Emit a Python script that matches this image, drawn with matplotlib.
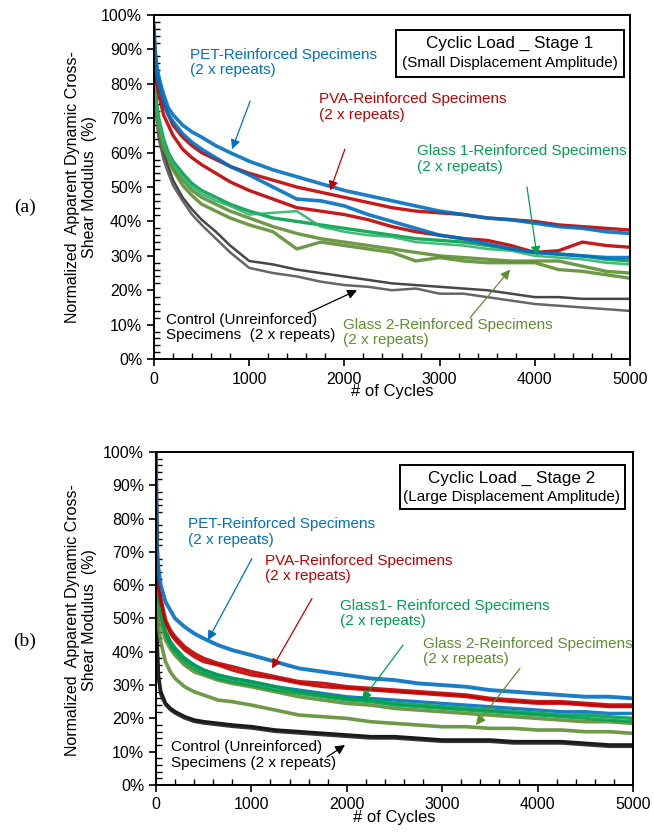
import matplotlib.pyplot as plt
from matplotlib.patches import Rectangle
from matplotlib.ticker import MultipleLocator, PercentFormatter

plt.rcParams['font.family'] = ['Liberation Sans', 'DejaVu Sans']

cycles = [0, 10, 25, 50, 100, 150, 200, 300, 400, 500, 650, 800, 1000, 1250, 1500,
          1750, 2000, 2250, 2500, 2750, 3000, 3250, 3500, 3750, 4000, 4250, 4500, 4750, 5000]

# ---- Stage 1 (small displacement amplitude), % of initial modulus
s1_pet_1 = [97, 90, 86, 82, 77, 73, 71, 68, 66, 64.5, 62, 60, 57.5, 55, 53,
            51, 49, 47.5, 46, 44.5, 43, 42, 41, 40.5, 39.5, 38.5, 38, 37, 36.5]
s1_pet_2 = [95, 88, 84, 80, 75, 71, 69, 65.5, 63, 61, 58.5, 56, 53.5, 50, 46.5,
            46, 44.5, 42, 40, 38, 36, 35, 33.5, 32, 31, 30.5, 30, 29.5, 29.5]
s1_pva_1 = [96, 88, 84, 80, 74, 71, 68, 64.5, 62, 60, 58, 56, 54, 52, 50,
            48.5, 47, 45.5, 44, 43, 42.5, 42, 41, 40.5, 40, 39, 38.5, 38, 37.5]
s1_pva_2 = [95, 86, 81, 77, 71, 68, 65, 61, 58.5, 56.5, 54, 51.5, 49, 46.5, 44,
            43, 42, 40.5, 38.5, 37, 36, 35, 34.5, 33, 31, 31.5, 34, 33, 32.5]
s1_g1_1 = [95, 82, 75, 70, 64, 60, 57.5, 54, 51, 49, 47, 45, 43, 41, 40,
           39, 38, 37, 36, 35, 34.5, 34, 33, 32, 31, 30.5, 30, 29, 28.5]
s1_g1_2 = [94, 81, 74, 69, 63, 59, 56.5, 53, 50, 48, 46, 44.5, 42, 42.5, 43,
           38.5, 37, 36, 35.5, 34, 33.5, 33, 32, 31.5, 30, 29.5, 29, 28, 27.5]
s1_g2_1 = [94, 80, 74, 68, 62, 58, 55.5, 52, 49, 47, 45, 43, 41, 38.5, 36.5,
           35, 34, 33, 32, 31, 30, 29.5, 29, 28.5, 28.5, 28.5, 27, 25.5, 25]
s1_g2_2 = [93, 79, 73, 67, 61, 58.5, 55, 50.5, 47.5, 45, 43, 41, 39, 37, 32,
           34, 33, 32, 31, 28.5, 29.5, 28.5, 28, 28, 28, 26, 25.5, 24.5, 23.5]
s1_ctl_1 = [93, 80, 72, 66, 60, 56, 52, 47, 43.5, 40.5, 37, 33, 28.5, 27.5, 26,
            25, 24, 23, 22, 21.5, 21, 20.5, 20, 19, 18, 18, 17.5, 17.5, 17.5]
s1_ctl_2 = [92, 78, 70, 64, 58, 54, 50.5, 46, 42, 39, 35, 31, 26.5, 25, 24,
            22.5, 21.5, 21, 20, 20.5, 19, 19, 18, 17, 16, 15.5, 15, 14.5, 14]

# ---- Stage 2 (large displacement amplitude)
s2_pet_1 = [100, 72, 65, 60, 55, 52.5, 50, 47.5, 45.5, 44, 42, 40.5, 39, 37, 35,
            34, 33, 32, 31.5, 30.5, 30, 29.5, 28.5, 28, 27.5, 27, 26.5, 26.5, 26]
s2_pet_2 = [100, 65, 58, 52, 46, 43, 41, 38, 36, 34.5, 33, 32, 31, 29.5, 28.5,
            27.5, 26.5, 26, 25.5, 25, 24.5, 24, 23.5, 23, 22.5, 22, 22, 21.5, 21.5]
s2_pva_1 = [100, 68, 61, 56, 49.5, 46.5, 44.5, 41.5, 39.5, 38, 36.5, 35.5, 34, 32.5, 31,
            30.5, 29.5, 29, 28.5, 28, 27.5, 27, 26, 25.5, 25, 25, 24.5, 24, 24]
s2_pva_2 = [100, 67, 60, 55, 49, 45.5, 43.5, 40.5, 38.5, 37, 36, 34.5, 33, 32, 30.5,
            29.5, 29, 28.5, 28, 27.5, 27, 26.5, 25.5, 25, 24.5, 24.5, 24, 23.5, 23.5]
s2_g1_1 = [95, 64, 57, 52, 46, 43, 41, 38, 36, 34.5, 33, 32, 31, 29.5, 28,
           27, 26, 25.5, 24.5, 24, 23.5, 23, 22.5, 22, 21.5, 21, 21, 20.5, 20]
s2_g1_2 = [94, 63, 56, 51, 45, 42, 40, 37, 35, 33.5, 32, 31, 30, 28.5, 27.5,
           26.5, 25.5, 25, 24, 23.5, 23, 22.5, 22, 21.5, 21, 20.5, 20, 19.5, 19]
s2_g2_1 = [90, 60, 54, 49, 43.5, 41, 39, 36, 34, 33, 31.5, 30.5, 29.5, 28, 26.5,
           25.5, 24.5, 24, 23, 22.5, 22, 21.5, 21, 20.5, 20, 19.5, 19, 19, 18.5]
s2_g2_2 = [85, 55, 48, 43, 37, 34, 32, 29.5, 28, 27, 25.5, 25, 24, 22.5, 21,
           20.5, 20, 19, 18.5, 18, 17.5, 17.5, 17, 17, 16.5, 16.5, 16, 16, 15.5]
s2_ctl_1 = [90, 45, 33, 28, 24.5, 23, 22, 20.5, 19.5, 19, 18.5, 18, 17.5, 16.5, 16,
            15.5, 15, 14.5, 14.5, 14, 13.5, 13.5, 13.5, 13, 13, 13, 12.5, 12, 12]
s2_ctl_2 = [88, 43, 32, 27, 24, 22.5, 21.5, 20, 19, 18.5, 18, 17.5, 17, 16, 15.5,
            15, 14.5, 14, 14, 13.5, 13, 13, 13, 12.5, 12.5, 12.5, 12, 11.5, 11.5]

BLUE = '#0070C0'
RED = '#C00000'
GREEN = '#00A04E'
OLIVE = '#5E8E32'
BLACK = '#000000'

fig = plt.figure(figsize=(6.54, 8.35), dpi=100)
ax_a = fig.add_axes([0.2355, 0.570, 0.7278, 0.412])
ax_b = fig.add_axes([0.2385, 0.0599, 0.7294, 0.3988])


def draw_curves(ax, curves):
    for vals, color, lw in curves:
        ax.plot(cycles, vals, color=color, lw=lw, alpha=0.9, solid_joinstyle='round')


draw_curves(ax_a, [
    (s1_ctl_1, '#333333', 1.8), (s1_ctl_2, '#555555', 1.8),
    (s1_g2_1, OLIVE, 2.4), (s1_g2_2, OLIVE, 2.4),
    (s1_g1_1, GREEN, 2.4), (s1_g1_2, '#2DB36A', 1.8),
    (s1_pva_1, RED, 2.4), (s1_pva_2, RED, 2.4),
    (s1_pet_1, BLUE, 2.6), (s1_pet_2, BLUE, 2.6),
])
draw_curves(ax_b, [
    (s2_ctl_1, BLACK, 2.6), (s2_ctl_2, '#222222', 2.0),
    (s2_g2_1, OLIVE, 2.6), (s2_g2_2, OLIVE, 2.6),
    (s2_pet_2, BLUE, 2.4),
    (s2_g1_1, GREEN, 2.6), (s2_g1_2, GREEN, 2.2),
    (s2_pva_1, RED, 2.6), (s2_pva_2, RED, 2.2),
    (s2_pet_1, BLUE, 2.8),
])

for ax in (ax_a, ax_b):
    ax.set_xlim(0, 5000)
    ax.set_ylim(0, 100)
    ax.xaxis.set_major_locator(MultipleLocator(1000))
    ax.xaxis.set_minor_locator(MultipleLocator(200))
    ax.yaxis.set_major_locator(MultipleLocator(10))
    ax.yaxis.set_minor_locator(MultipleLocator(2))
    ax.yaxis.set_major_formatter(PercentFormatter(decimals=0))
    ax.tick_params(which='major', direction='out', length=5, width=1.2, labelsize=11.5)
    ax.tick_params(which='minor', direction='in', length=4, width=1.0)
    ax.tick_params(axis='x', pad=4)
    for sp in ax.spines.values():
        sp.set_linewidth(1.4)
    ax.set_xlabel('# of Cycles', fontsize=12, labelpad=-2)

arrow = dict(arrowstyle='-|>', lw=0.9, mutation_scale=14, shrinkA=0, shrinkB=0)
fs = 11

# ---- panel (a) annotations
ax_a.text(378, 90.5, 'PET-Reinforced Specimens\n(2 x repeats)', color=BLUE, fontsize=fs,
          va='top', linespacing=1.15)
ax_a.annotate('', xy=(820, 61), xytext=(1010, 75), arrowprops=dict(arrow, color=BLUE))
ax_a.text(1733, 77.5, 'PVA-Reinforced Specimens\n(2 x repeats)', color=RED, fontsize=fs,
          va='top', linespacing=1.15)
ax_a.annotate('', xy=(1850, 49), xytext=(2005, 61), arrowprops=dict(arrow, color=RED))
ax_a.text(2763, 62.5, 'Glass 1-Reinforced Specimens\n(2 x repeats)', color=GREEN, fontsize=fs,
          va='top', linespacing=1.15)
ax_a.annotate('', xy=(4023, 30), xytext=(3918, 50), arrowprops=dict(arrow, color=GREEN))
ax_a.text(1985, 12, 'Glass 2-Reinforced Specimens\n(2 x repeats)', color=OLIVE, fontsize=fs,
          va='top', linespacing=1.15)
ax_a.annotate('', xy=(3740, 26), xytext=(3320, 12), arrowprops=dict(arrow, color=OLIVE))
ax_a.text(126, 13.5, 'Control (Unreinforced)\nSpecimens  (2 x repeats)', color=BLACK,
          fontsize=fs, va='top', linespacing=1.15)
ax_a.annotate('', xy=(2132, 20), xytext=(1618, 13.4), arrowprops=dict(arrow, color=BLACK))

ax_a.add_patch(Rectangle((0.508, 0.820), 0.479, 0.136, transform=ax_a.transAxes,
                         fill=False, lw=1.4, ec='black'))
ax_a.text(0.748, 0.916, 'Cyclic Load _ Stage 1', transform=ax_a.transAxes,
          ha='center', va='center', fontsize=12.3)
ax_a.text(0.748, 0.860, '(Small Displacement Amplitude)', transform=ax_a.transAxes,
          ha='center', va='center', fontsize=11)

# ---- panel (b) annotations
ax_b.text(335, 80.5, 'PET-Reinforced Specimens\n(2 x repeats)', color=BLUE, fontsize=fs,
          va='top', linespacing=1.15)
ax_b.annotate('', xy=(545, 43.5), xytext=(1006, 68), arrowprops=dict(arrow, color=BLUE))
ax_b.text(1143, 69.5, 'PVA-Reinforced Specimens\n(2 x repeats)', color=RED, fontsize=fs,
          va='top', linespacing=1.15)
ax_b.annotate('', xy=(1216, 35), xytext=(1635, 56), arrowprops=dict(arrow, color=RED))
ax_b.text(1929, 56, 'Glass1- Reinforced Specimens\n(2 x repeats)', color=GREEN, fontsize=fs,
          va='top', linespacing=1.15)
ax_b.annotate('', xy=(2160, 25.5), xytext=(2589, 42), arrowprops=dict(arrow, color=GREEN))
ax_b.text(2799, 44.5, 'Glass 2-Reinforced Specimens\n(2 x repeats)', color=OLIVE, fontsize=fs,
          va='top', linespacing=1.15)
ax_b.annotate('', xy=(3354, 18), xytext=(3815, 35), arrowprops=dict(arrow, color=OLIVE))
ax_b.text(157, 13.5, 'Control (Unreinforced)\nSpecimens (2 x repeats)', color=BLACK,
          fontsize=fs, va='top', linespacing=1.15)
ax_b.annotate('', xy=(1981, 12), xytext=(1793, 8.4), arrowprops=dict(arrow, color=BLACK))

ax_b.add_patch(Rectangle((0.5115, 0.829), 0.4715, 0.132, transform=ax_b.transAxes,
                         fill=False, lw=1.4, ec='black'))
ax_b.text(0.746, 0.922, 'Cyclic Load _ Stage 2', transform=ax_b.transAxes,
          ha='center', va='center', fontsize=12.3)
ax_b.text(0.746, 0.865, '(Large Displacement Amplitude)', transform=ax_b.transAxes,
          ha='center', va='center', fontsize=11)

# y labels and panel letters
ylab = 'Normalized  Apparent Dynamic Cross-\nShear Modulus  (%)'
fig.text(81 / 654, 1 - 187 / 835, ylab, rotation=90, ha='center', va='center',
         fontsize=11.5, linespacing=1.15)
fig.text(81 / 654, 1 - 620 / 835, ylab, rotation=90, ha='center', va='center',
         fontsize=11.5, linespacing=1.15)
fig.text(25 / 654, 1 - 207 / 835, '(a)', family='Liberation Serif', fontsize=14,
         ha='center', va='center')
fig.text(25 / 654, 1 - 641 / 835, '(b)', family='Liberation Serif', fontsize=14,
         ha='center', va='center')

fig.savefig('out.png', dpi=100)
